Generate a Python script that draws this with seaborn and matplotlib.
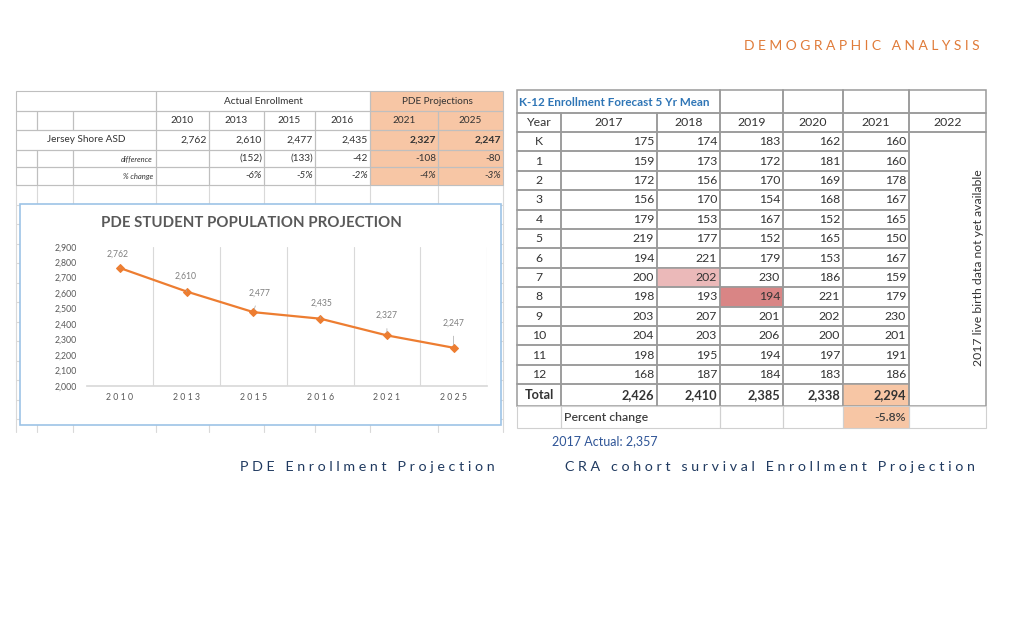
import matplotlib.pyplot as plt
import pandas as pd
import seaborn as sns
from matplotlib.patches import Rectangle

sns.set_theme(style="white")
plt.rcParams["font.family"] = ["Lato", "DejaVu Sans"]

# PDE table / line chart
pde_years = ["2010", "2013", "2015", "2016", "2021", "2025"]
pde_enrollment = [2762, 2610, 2477, 2435, 2327, 2247]
pde_difference = ["", "(152)", "(133)", "-42", "-108", "-80"]
pde_pct_change = ["", "-6%", "-5%", "-2%", "-4%", "-3%"]
district = "Jersey Shore ASD"

# CRA cohort survival forecast
forecast_years = ["2017", "2018", "2019", "2020", "2021", "2022"]
grades = ["K", "1", "2", "3", "4", "5", "6", "7", "8", "9", "10", "11", "12"]
grade_2017 = [175, 159, 172, 156, 179, 219, 194, 200, 198, 203, 204, 198, 168]
grade_2018 = [174, 173, 156, 170, 153, 177, 221, 202, 193, 207, 203, 195, 187]
grade_2019 = [183, 172, 170, 154, 167, 152, 179, 230, 194, 201, 206, 194, 184]
grade_2020 = [162, 181, 169, 168, 152, 165, 153, 186, 221, 202, 200, 197, 183]
grade_2021 = [160, 160, 178, 167, 165, 150, 167, 159, 179, 230, 201, 191, 186]
forecast_totals = [2426, 2410, 2385, 2338, 2294]
percent_change = "-5.8%"
actual_2017 = "2017 Actual: 2,357"
no_data_note = "2017 live birth data not yet available"

ORANGE = "#F7C6A5"
LINE_ORANGE = "#ED7D31"
GRID_L = "#BFBFBF"
GRID_R = "#9A9A9A"
TXT = "#333333"


def cell(ax, x0, y0, x1, y1, fill="none", edge=GRID_L, lw=0.8, z=1):
    ax.add_patch(Rectangle((x0, y0), x1 - x0, y1 - y0, facecolor=fill,
                           edgecolor=edge, lw=lw, zorder=z))


def spaced(s):
    return " ".join(s)


def main():
    fig = plt.figure(figsize=(10.24, 6.22), dpi=100)
    bg = fig.add_axes([0, 0, 1, 1], zorder=0)
    bg.set_xlim(0, 1024)
    bg.set_ylim(622, 0)
    bg.axis("off")

    # ---- headings
    bg.text(980, 46, "D E M O G R A P H I C   A N A L Y S I S", ha="right", va="center",
            fontsize=10, color="#E07B39")
    bg.text(367, 467, "P D E   E n r o l l m e n t   P r o j e c t i o n", ha="center",
            va="center", fontsize=10.3, color="#203A60")
    bg.text(770, 467, "C R A   c o h o r t   s u r v i v a l   E n r o l l m e n t   P r o j e c t i o n",
            ha="center", va="center", fontsize=10.3, color="#203A60")

    # ---- left (PDE) table
    cols = [16, 37, 73, 156, 209, 264, 315, 370, 438, 503]
    rows = [91, 111, 130, 150, 167, 185]

    # filler grid behind the chart
    y = rows[-1]
    while y < 432:
        bg.plot([16, 503], [y, y], color="#D9D9D9", lw=0.8, zorder=0)
        y += 19.5
    for x in cols:
        bg.plot([x, x], [rows[-1], 432], color="#D9D9D9", lw=0.8, zorder=0)

    for r in range(5):
        for c in (7, 8):
            cell(bg, cols[c], rows[r], cols[c + 1], rows[r + 1], fill=ORANGE, edge="none")

    cell(bg, 16, rows[0], 156, rows[1])
    cell(bg, 156, rows[0], 370, rows[1])
    cell(bg, 370, rows[0], 503, rows[1])
    bg.text(263, 101, "Actual Enrollment", ha="center", va="center", fontsize=7.2, color=TXT)
    bg.text(437, 101, "PDE Projections", ha="center", va="center", fontsize=7.2, color=TXT)

    for r in (1, 3, 4):
        for a, b in ((16, 37), (37, 73), (73, 156)):
            cell(bg, a, rows[r], b, rows[r + 1])
    cell(bg, 16, rows[2], 156, rows[3])
    bg.text(86, (rows[2] + rows[3]) / 2, district, ha="center", va="center", fontsize=7.2, color=TXT)
    bg.text(153, (rows[3] + rows[4]) / 2, "difference", ha="right", va="center",
            fontsize=5.5, style="italic", color=TXT)
    bg.text(153, (rows[4] + rows[5]) / 2, "% change", ha="right", va="center",
            fontsize=5.5, style="italic", color=TXT)

    for i, yr in enumerate(pde_years):
        x0, x1 = cols[3 + i], cols[4 + i]
        for r in range(1, 5):
            cell(bg, x0, rows[r], x1, rows[r + 1])
        bold = "bold" if i >= 4 else "normal"
        bg.text((x0 + x1) / 2, (rows[1] + rows[2]) / 2, yr, ha="center", va="center",
                fontsize=7.2, color=TXT)
        bg.text(x1 - 2, (rows[2] + rows[3]) / 2, f"{pde_enrollment[i]:,}", ha="right",
                va="center", fontsize=7.5, color=TXT, fontweight=bold)
        bg.text(x1 - 2, (rows[3] + rows[4]) / 2, pde_difference[i], ha="right",
                va="center", fontsize=7.2, color=TXT)
        bg.text(x1 - 2, (rows[4] + rows[5]) / 2, pde_pct_change[i], ha="right",
                va="center", fontsize=7.2, style="italic", color=TXT)

    # chart box
    cell(bg, 20, 204, 501, 425, fill="white", edge="#9DC3E6", lw=1.2, z=3)
    bg.text(251, 223, "PDE STUDENT POPULATION PROJECTION", ha="center", va="center",
            fontsize=10.8, fontweight="bold", color="#595959", zorder=4)

    # ---- right (CRA) table
    rc = [517, 561, 657, 720, 783, 843, 909, 986]
    top, yr_top, g_top, step = 90, 113, 132, 19.4
    g_rows = [g_top + step * i for i in range(len(grades) + 1)]
    tot_top, tot_bot, pc_bot = g_rows[-1], g_rows[-1] + 22, g_rows[-1] + 44
    lw_r = 1.1

    cell(bg, rc[0], top, rc[3], yr_top, edge=GRID_R, lw=lw_r)
    for c in range(3, 7):
        cell(bg, rc[c], top, rc[c + 1], yr_top, edge=GRID_R, lw=lw_r)
    bg.text(519, (top + yr_top) / 2 + 1, "K-12 Enrollment Forecast 5 Yr Mean", ha="left",
            va="center", fontsize=8.4, fontweight="bold", color="#2E75B6")

    cell(bg, rc[0], yr_top, rc[1], g_top, edge=GRID_R, lw=lw_r)
    bg.text((rc[0] + rc[1]) / 2, (yr_top + g_top) / 2, "Year", ha="center", va="center",
            fontsize=8.8, color=TXT)
    for c, yr in enumerate(forecast_years):
        cell(bg, rc[c + 1], yr_top, rc[c + 2], g_top, edge=GRID_R, lw=lw_r)
        bg.text((rc[c + 1] + rc[c + 2]) / 2, (yr_top + g_top) / 2, yr, ha="center",
                va="center", fontsize=8.8, color=TXT)

    grade_cols = [grade_2017, grade_2018, grade_2019, grade_2020, grade_2021]
    highlights = {(7, 1): "#EBB9B9", (8, 2): "#D98585"}
    for r, g in enumerate(grades):
        y0, y1 = g_rows[r], g_rows[r + 1]
        cell(bg, rc[0], y0, rc[1], y1, edge=GRID_R, lw=lw_r)
        bg.text((rc[0] + rc[1]) / 2, (y0 + y1) / 2, g, ha="center", va="center",
                fontsize=8.8, color=TXT)
        for c, vals in enumerate(grade_cols):
            fill = highlights.get((r, c), "none")
            cell(bg, rc[c + 1], y0, rc[c + 2], y1, fill=fill, edge=GRID_R, lw=lw_r)
            bg.text(rc[c + 2] - 3, (y0 + y1) / 2, str(vals[r]), ha="right", va="center",
                    fontsize=8.8, color=TXT)

    # total row
    cell(bg, rc[0], tot_top, rc[1], tot_bot, edge=GRID_R, lw=lw_r)
    bg.text((rc[0] + rc[1]) / 2, (tot_top + tot_bot) / 2, "Total", ha="center", va="center",
            fontsize=9.2, fontweight="bold", color=TXT)
    for c, t in enumerate(forecast_totals):
        fill = ORANGE if c == 4 else "none"
        cell(bg, rc[c + 1], tot_top, rc[c + 2], tot_bot, fill=fill, edge=GRID_R, lw=lw_r)
        bg.text(rc[c + 2] - 3, (tot_top + tot_bot) / 2, f"{t:,}", ha="right", va="center",
                fontsize=9.2, fontweight="bold", color=TXT)

    # merged 2022 column
    cell(bg, rc[6], g_top, rc[7], tot_bot, edge=GRID_R, lw=lw_r)
    bg.text(978, 268, no_data_note, rotation=90, ha="center", va="center",
            fontsize=8.8, color=TXT)

    # percent change row
    light = "#D0D0D0"
    cell(bg, rc[0], tot_bot, rc[1], pc_bot, edge=light)
    cell(bg, rc[1], tot_bot, rc[3], pc_bot, edge=light)
    cell(bg, rc[3], tot_bot, rc[4], pc_bot, edge=light)
    cell(bg, rc[4], tot_bot, rc[5], pc_bot, edge=light)
    cell(bg, rc[5], tot_bot, rc[6], pc_bot, fill=ORANGE, edge=light)
    cell(bg, rc[6], tot_bot, rc[7], pc_bot, edge=light)
    bg.text(rc[1] + 3, (tot_bot + pc_bot) / 2, "Percent change", ha="left", va="center",
            fontsize=8.8, fontweight="semibold", color="#404040")
    bg.text(rc[6] - 3, (tot_bot + pc_bot) / 2, percent_change, ha="right", va="center",
            fontsize=8.8, fontweight="semibold", color="#404040")
    bg.text(552, 441, actual_2017, ha="left", va="center", fontsize=9, color="#2F5597")

    # ---- line chart
    ax = fig.add_axes([86.7 / 1024, 1 - 386 / 622, 400.3 / 1024, 139.3 / 622], zorder=5)
    ax.set_facecolor("none")
    df = pd.DataFrame({"year": pde_years, "enrollment": pde_enrollment})
    sns.lineplot(data=df, x="year", y="enrollment", ax=ax, color=LINE_ORANGE, lw=1.6,
                 marker="D", markersize=4.5, markeredgecolor=LINE_ORANGE)
    ax.set_xlim(-0.5, len(pde_years) - 0.5)
    ax.set_ylim(2000, 2900)
    ax.set_yticks(range(2000, 2901, 100))
    ax.set_yticklabels([f"{v:,}" for v in range(2000, 2901, 100)])
    ax.set_xticks(range(len(pde_years)))
    ax.set_xticklabels([spaced(y) for y in pde_years])
    ax.tick_params(axis="y", labelsize=6.3, labelcolor="#595959", pad=7, length=0)
    ax.tick_params(axis="x", labelsize=6.3, labelcolor="#595959", pad=5, length=0)
    for x in [i + 0.5 for i in range(len(pde_years))]:
        ax.axvline(x, color="#D9D9D9", lw=0.8, zorder=0)
    for s in ("top", "right", "left"):
        ax.spines[s].set_visible(False)
    ax.spines["bottom"].set_color("#D9D9D9")
    ax.set_xlabel("")
    ax.set_ylabel("")

    label_offsets = [(-2, 10), (-1, 11), (4, 14), (1, 11), (0, 14.5), (0, 18)]
    for i, v in enumerate(pde_enrollment):
        ax.annotate(f"{v:,}", xy=(i, v), xytext=label_offsets[i], textcoords="offset points",
                    ha="center", va="center", fontsize=6.2, color="#7F7F7F",
                    arrowprops=dict(arrowstyle="-", color="#A6A6A6", lw=0.5,
                                    shrinkA=4, shrinkB=2))

    fig.savefig("out.png", dpi=100, facecolor="white")
    plt.close(fig)


if __name__ == "__main__":
    main()
